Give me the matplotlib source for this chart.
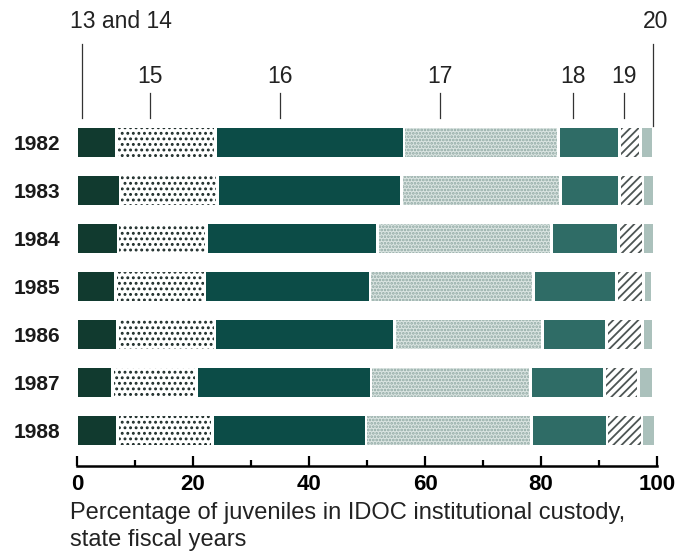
import matplotlib
matplotlib.use("Agg")
import matplotlib.pyplot as plt
import numpy as np

plt.rcParams['font.family'] = ['Liberation Sans', 'DejaVu Sans']
plt.rcParams['hatch.linewidth'] = 1.3

# ---- data (percent of juveniles by age, per fiscal year) ----
years = ['1982', '1983', '1984', '1985', '1986', '1987', '1988']
age_groups = ['13 and 14', '15', '16', '17', '18', '19', '20']
age_13_14 = [6.8, 7.4, 7.1, 6.6, 7.0, 6.1, 7.0]
age_15 = [17.1, 16.8, 15.2, 15.5, 16.8, 14.5, 16.4]
age_16 = [32.5, 31.8, 29.5, 28.4, 30.9, 30.1, 26.4]
age_17 = [26.6, 27.4, 30.0, 28.2, 25.6, 27.5, 28.6]
age_18 = [10.5, 10.1, 11.6, 14.3, 11.0, 12.7, 13.0]
age_19 = [3.7, 4.1, 4.2, 4.7, 6.2, 5.9, 6.0]
age_20 = [2.1, 1.9, 1.9, 1.5, 1.9, 2.6, 2.3]
x_ticks = [0, 20, 40, 60, 80, 100]
x_label = "Percentage of juveniles in IDOC institutional custody,\nstate fiscal years"

series = [age_13_14, age_15, age_16, age_17, age_18, age_19, age_20]

# ---- styles ----
styles = [
    dict(facecolor='#113a2f', hatch=None, hcolor='#113a2f'),
    dict(facecolor='#ffffff', hatch='...', hcolor='#1c2b28'),
    dict(facecolor='#0c4c47', hatch=None, hcolor='#0c4c47'),
    dict(facecolor='#dbe5e2', hatch='.....', hcolor='#8ea7a2'),
    dict(facecolor='#2f6c66', hatch=None, hcolor='#2f6c66'),
    dict(facecolor='#ffffff', hatch='////', hcolor='#4d5554'),
    dict(facecolor='#abc1bc', hatch=None, hcolor='#abc1bc'),
]
bold_family = ['Liberation Sans Narrow', 'Liberation Sans', 'DejaVu Sans']
# annotation positions (data x) for the group labels
label_x_line = [0.9, 12.6, 35.0, 62.6, 85.5, 94.3, 99.3]
label_x_text = [7.5, 12.6, 35.0, 62.6, 85.5, 94.3, 99.8]

fig = plt.figure(figsize=(6.81, 5.59), dpi=100)
W, H = 681, 559
x0_px, x1_px = 77, 657
top_px, bot_px = 118, 466
ax = fig.add_axes([x0_px / W, 1 - bot_px / H, (x1_px - x0_px) / W, (bot_px - top_px) / H])

row_px = 48.0
first_center = 142.5
y_top = (top_px - first_center) / row_px
y_bot = (bot_px - first_center) / row_px
ypos = np.arange(len(years))

gap = 0.45
left = np.zeros(len(years))
for vals, st in zip(series, styles):
    v = np.array(vals)
    ax.barh(ypos, v - gap, left=left + gap / 2, height=0.62,
            color=st['facecolor'], edgecolor=st['hcolor'], linewidth=0,
            hatch=st['hatch'])
    left += v

ax.set_xlim(0, 100)
ax.set_ylim(y_bot, y_top)
ax.set_yticks(ypos)
ax.set_yticklabels(years, fontsize=15, fontweight='bold', family=bold_family)
ax.tick_params(axis='y', length=0, pad=12)
for lab in ax.get_yticklabels():
    lab.set_color('#1a1a1a')

ax.set_xticks(x_ticks)
ax.set_xticklabels([str(t) for t in x_ticks], fontsize=16, fontweight='bold',
                   family=bold_family)
ax.set_xticks([10, 30, 50, 70, 90], minor=True)
ax.tick_params(axis='x', which='major', direction='in', length=7, width=1.6, pad=6)
ax.tick_params(axis='x', which='minor', direction='in', length=4.5, width=1.6)
for s in ['top', 'right', 'left']:
    ax.spines[s].set_visible(False)
ax.spines['bottom'].set_linewidth(1.8)

# group labels and leader lines
def ypx(px):
    return (px - first_center) / row_px

for i, name in enumerate(age_groups):
    if i in (0, 6):
        ty, l0, l1 = ypx(21), ypx(44), ypx(118 if i == 0 else 126)
    else:
        ty, l0, l1 = ypx(76), ypx(93), ypx(118)
    ax.plot([label_x_line[i], label_x_line[i]], [l0, l1], color='#333333',
            linewidth=0.9, clip_on=False)
    ax.text(label_x_text[i], ty, name, ha='center', va='center', fontsize=16.5,
            color='#222222', clip_on=False)

fig.text(70 / W, 1 - 502 / H, x_label, ha='left', va='top', fontsize=17,
         color='#222222', linespacing=1.3)

fig.savefig('out.png', dpi=100, facecolor='white')
